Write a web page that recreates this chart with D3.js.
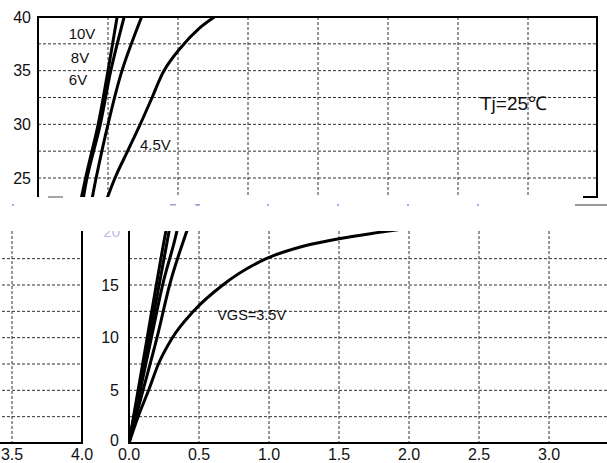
<!DOCTYPE html>
<html>
<head>
<meta charset="utf-8">
<script src="https://cdn.jsdelivr.net/npm/d3@7"></script>
<style>
html,body{margin:0;padding:0;background:#fff;}
svg{display:block;font-family:"Liberation Sans",Arial,sans-serif;}
</style>
</head>
<body>
<svg id="chart" width="607" height="463"></svg>
<script>
// ---------- data ----------
const xTicks = [0, 0.5, 1.0, 1.5, 2.0, 2.5, 3.0, 3.5, 4.0];
const topYTicks = [25, 30, 35, 40];
const topGrid = [25, 27.5, 30, 32.5, 35, 37.5];
const botYTicks = [0, 5, 10, 15];
const botGrid = [2.5, 5, 7.5, 10, 12.5, 15, 17.5];

const vgs10 = [[0,0],[0.065,5],[0.13,10],[0.195,15],[0.262,20],[0.34,25],[0.43,30],[0.5,35],[0.565,40]];
const vgs8  = [[0,0],[0.07,5],[0.145,10],[0.215,15],[0.285,20],[0.35,25],[0.445,30],[0.52,35],[0.615,40]];
const vgs6  = [[0,0],[0.08,5],[0.16,10],[0.24,15],[0.34,20],[0.415,25],[0.5,30],[0.6,35],[0.74,40]];
const vgs45 = [[0,0],[0.1,5],[0.2,10],[0.29,15],[0.41,20],[0.55,25],[0.64,27.5],[0.73,30],[0.815,32.5],[0.9,35],[1.01,37],[1.157,39],[1.26,40]];
const vgs35 = [[0,0],[0.065,2.5],[0.14,5],[0.21,7.5],[0.31,10],[0.46,12.5],[0.67,15],[0.98,17.5],[1.25,18.7],[1.5,19.4],[1.79,20],[2.0,20.4]];
const curves = [vgs10, vgs8, vgs6, vgs45, vgs35];

const fmt = d3.format(".1f");
const svg = d3.select("#chart");
const defs = svg.append("defs");
const W = 607;

// ---------- top panel ----------
const xTop = d3.scaleLinear().domain([0, 4]).range([38, 598]);
const yTop = d3.scaleLinear().domain([25, 40]).range([178, 17]);
const topBottom = 197;

defs.append("clipPath").attr("id","clipTop").append("rect")
  .attr("x", xTop(0)).attr("y", yTop(40)).attr("width", xTop(4)-xTop(0)).attr("height", topBottom - yTop(40));

const gTop = svg.append("g");
gTop.selectAll("line.hg").data(topGrid).join("line")
  .attr("x1", xTop(0)).attr("x2", xTop(4)).attr("y1", d=>yTop(d)).attr("y2", d=>yTop(d))
  .attr("stroke","#333").attr("stroke-width",1).attr("stroke-dasharray","3,2");
gTop.selectAll("line.vg").data(xTicks.slice(1,8)).join("line")
  .attr("x1", d=>xTop(d)).attr("x2", d=>xTop(d)).attr("y1", yTop(40)).attr("y2", topBottom)
  .attr("stroke","#333").attr("stroke-width",1).attr("stroke-dasharray","3,2");
const lineTop = d3.line().x(d=>xTop(d[0])).y(d=>yTop(d[1])).curve(d3.curveCatmullRom.alpha(0.5));
gTop.append("g").attr("clip-path","url(#clipTop)")
  .selectAll("path").data(curves).join("path")
  .attr("d", lineTop).attr("fill","none").attr("stroke","#000").attr("stroke-width",3);
gTop.append("path")
  .attr("d", `M${xTop(0)},${topBottom}V${yTop(40)}H${xTop(4)-1}V${topBottom}H${xTop(4)-15}`)
  .attr("fill","none").attr("stroke","#000").attr("stroke-width",2);
gTop.selectAll("text.yl").data(topYTicks).join("text")
  .attr("x", xTop(0)-7).attr("y", d=>yTop(d)).attr("dy","0.36em")
  .attr("text-anchor","end").attr("font-size",16).attr("fill","#111").text(d=>d);
const ann = [["10V",82,34],["8V",80,58],["6V",78,80]];
gTop.selectAll("text.ann").data(ann).join("text")
  .attr("x", d=>d[1]).attr("y", d=>d[2]).attr("dy","0.36em").attr("text-anchor","middle")
  .attr("font-size",15).attr("fill","#111").text(d=>d[0]);
gTop.append("text").attr("x",140).attr("y",145).attr("dy","0.36em")
  .attr("font-size",15).attr("fill","#111").text("4.5V");
gTop.append("text").attr("x",480).attr("y",103).attr("dy","0.36em")
  .attr("font-size",19).attr("fill","#111").text("Tj=25℃");

// glitch remnants between panels
svg.append("line").attr("x1",48).attr("x2",63).attr("y1",197).attr("y2",197)
  .attr("stroke","#888").attr("stroke-width",1.5);
svg.append("line").attr("x1",575).attr("x2",607).attr("y1",205).attr("y2",205)
  .attr("stroke","#999").attr("stroke-width",2);
svg.selectAll("rect.dot").data(xTicks.slice(2,7)).join("rect")
  .attr("x", d=>xTop(d)+19).attr("y",204).attr("width",2).attr("height",2).attr("fill","#a8a8f0");
svg.append("rect").attr("x",12).attr("y",204).attr("width",2).attr("height",2).attr("fill","#a8a8f0");
svg.append("rect").attr("x",170).attr("y",204).attr("width",6).attr("height",1.5).attr("fill","#a0a0d8");
svg.append("rect").attr("x",195).attr("y",204).attr("width",5).attr("height",1.5).attr("fill","#a0a0d8");

// ---------- bottom panel (shifted and wrapped) ----------
const xBot = d3.scaleLinear().domain([0, 4]).range([129, 689]);
const yBot = d3.scaleLinear().domain([0, 15]).range([443, 285]);
const botTop = 231;

defs.append("clipPath").attr("id","clipBot").append("rect")
  .attr("x", 0).attr("y", botTop).attr("width", W).attr("height", 463-botTop);
defs.append("clipPath").attr("id","clipBotPlot").append("rect")
  .attr("x", xBot(0)).attr("y", botTop).attr("width", xBot(4)-xBot(0)).attr("height", yBot(0)-botTop);

const lineBot = d3.line().x(d=>xBot(d[0])).y(d=>yBot(d[1])).curve(d3.curveMonotoneX);

function drawBottom(g, shift) {
  const visible = x => x + shift > -5 && x + shift < W - 5;
  g.selectAll("line.hg").data(botGrid).join("line")
    .attr("x1", xBot(0)).attr("x2", xBot(4)).attr("y1", d=>yBot(d)).attr("y2", d=>yBot(d))
    .attr("stroke","#333").attr("stroke-width",1).attr("stroke-dasharray","3,2");
  g.selectAll("line.vg").data(xTicks.slice(1,8)).join("line")
    .attr("x1", d=>xBot(d)).attr("x2", d=>xBot(d)).attr("y1", botTop).attr("y2", yBot(0))
    .attr("stroke","#333").attr("stroke-width",1).attr("stroke-dasharray","3,2");
  if (visible(xBot(0.5))) {
    g.append("g").attr("clip-path","url(#clipBotPlot)")
      .selectAll("path").data(curves).join("path")
      .attr("d", lineBot).attr("fill","none").attr("stroke","#000").attr("stroke-width",3);
  }
  g.append("path")
    .attr("d", `M${xBot(0)},${botTop}V${yBot(0)}H${xBot(4)}V${botTop}`)
    .attr("fill","none").attr("stroke","#000").attr("stroke-width",2);
  g.selectAll("text.xl").data(xTicks.filter(d => visible(xBot(d)))).join("text")
    .attr("x", d=>xBot(d)).attr("y", 460)
    .attr("text-anchor","middle").attr("font-size",16).attr("fill","#111").text(d=>fmt(d));
  if (visible(xBot(0) - 10)) {
    g.selectAll("text.yl").data(botYTicks).join("text")
      .attr("x", xBot(0)-10).attr("y", d=>yBot(d) - (d===0?3:0)).attr("dy","0.36em")
      .attr("text-anchor","end").attr("font-size",16).attr("fill","#111").text(d=>d);
    g.append("text").attr("x", xBot(0)-9).attr("y", yBot(20)-1).attr("dy","0.36em")
      .attr("text-anchor","end").attr("font-size",15).attr("fill","#c4b6ec").text("20");
    g.append("text").attr("x", xBot(0.63)).attr("y", 315).attr("dy","0.36em")
      .attr("font-size",14.5).attr("fill","#111").text("VGS=3.5V");
  }
}

const gBotWrap = svg.append("g").attr("clip-path","url(#clipBot)");
drawBottom(gBotWrap.append("g"), 0);
drawBottom(gBotWrap.append("g").attr("transform", `translate(${-W},0)`), -W);
</script>
</body>
</html>
